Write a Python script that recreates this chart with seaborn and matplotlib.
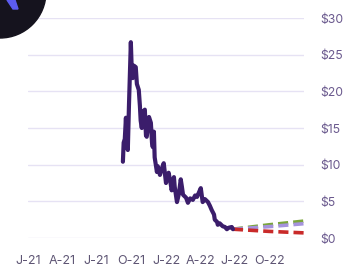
import pandas as pd
import matplotlib.pyplot as plt
from matplotlib.patches import Circle, Polygon
import seaborn as sns

# price history
dates = ['2021-09-09', '2021-09-11', '2021-09-14', '2021-09-17', '2021-09-19', '2021-09-22',
         '2021-09-25', '2021-09-30', '2021-10-03', '2021-10-05', '2021-10-08', '2021-10-13',
         '2021-10-16', '2021-10-21', '2021-10-24', '2021-10-26', '2021-10-29', '2021-11-01',
         '2021-11-06', '2021-11-09', '2021-11-11', '2021-11-17', '2021-11-22', '2021-11-25',
         '2021-11-27', '2021-11-30', '2021-12-02', '2021-12-08', '2021-12-10', '2021-12-16',
         '2021-12-21', '2021-12-26', '2022-01-01', '2022-01-03', '2022-01-08', '2022-01-14',
         '2022-01-16', '2022-01-22', '2022-01-24', '2022-01-30', '2022-02-04', '2022-02-09',
         '2022-02-12', '2022-02-15', '2022-02-23', '2022-02-28', '2022-03-06', '2022-03-13',
         '2022-03-19', '2022-03-24', '2022-03-29', '2022-04-03', '2022-04-08', '2022-04-14',
         '2022-04-22', '2022-04-27', '2022-05-02', '2022-05-08', '2022-05-10', '2022-05-16',
         '2022-05-18', '2022-05-23', '2022-05-31', '2022-06-06', '2022-06-11', '2022-06-16',
         '2022-06-24', '2022-06-27']
prices = [10.4, 13.0, 13.5, 16.4, 13.0, 12.0,
          18.0, 26.7, 22.0, 21.8, 23.5, 23.3,
          21.0, 20.2, 18.0, 16.0, 15.0, 17.2,
          17.5, 14.0, 13.8, 16.5, 15.7, 13.0,
          12.4, 14.5, 11.0, 9.0, 9.8, 8.6,
          9.5, 10.2, 7.5, 8.2, 8.9, 7.2,
          6.5, 8.3, 7.0, 4.9, 6.0, 8.0,
          7.0, 5.9, 5.5, 4.8, 5.4, 5.2,
          5.8, 5.6, 6.2, 6.8, 4.9, 5.3,
          4.9, 4.4, 3.8, 3.2, 2.5, 2.2,
          1.8, 2.0, 1.6, 1.5, 1.2, 1.4,
          1.5, 1.2]

# forecast scenarios
fc_dates = ['2022-06-27', '2022-10-01', '2022-12-31']
fc_high = [1.2, 1.8, 2.3]
fc_mid = [1.2, 1.55, 1.95]
fc_low = [1.2, 0.9, 0.7]

y_ticks = [0, 5, 10, 15, 20, 25, 30]
x_ticks = ['2021-01-01', '2021-04-01', '2021-07-01', '2021-10-01',
           '2022-01-01', '2022-04-01', '2022-07-01', '2022-10-01']
x_labels = ['J-21', 'A-21', 'J-21', 'O-21', 'J-22', 'A-22', 'J-22', 'O-22']

sns.set_style('white')
plt.rcParams['font.family'] = ['Inter', 'DejaVu Sans']

df = pd.DataFrame({'date': pd.to_datetime(dates), 'price': prices})
fc = pd.DataFrame({'date': pd.to_datetime(fc_dates), 'high': fc_high,
                   'mid': fc_mid, 'low': fc_low})

fig = plt.figure(figsize=(3.48, 2.68), dpi=100)
ax = fig.add_axes([28 / 348, 30 / 268, 276 / 348, 220 / 268])

dash = (0, (2.8, 1.4))
sns.lineplot(data=fc, x='date', y='high', ax=ax, color='#7aa53a', lw=2.6, ls=dash, clip_on=False)
sns.lineplot(data=fc, x='date', y='mid', ax=ax, color='#a593dc', lw=2.6, ls=dash, clip_on=False)
sns.lineplot(data=fc, x='date', y='low', ax=ax, color='#c92a2a', lw=2.6, ls=dash, clip_on=False)
sns.lineplot(data=df, x='date', y='price', ax=ax, color='#3b1d6b', lw=3)

ax.set_xlim(pd.Timestamp('2021-01-01'), pd.Timestamp('2023-01-01'))
ax.set_ylim(0, 30)
ax.set_yticks(y_ticks)
ax.set_yticklabels(['$' + str(v) for v in y_ticks])
ax.yaxis.tick_right()
ax.set_xticks(pd.to_datetime(x_ticks))
ax.set_xticklabels(x_labels)
ax.tick_params(axis='y', length=0, pad=12, labelsize=8.8, labelcolor='#6b5a8e')
ax.tick_params(axis='x', length=0, pad=12, labelsize=9, labelcolor='#5e5574')
ax.grid(axis='y', color='#e6e2f4', lw=1)
ax.grid(axis='x', visible=False)
ax.set_xlabel('')
ax.set_ylabel('')
for s in ax.spines.values():
    s.set_visible(False)

# logo in top-left corner
lax = fig.add_axes([0, 0, 1, 1], zorder=5)
lax.set_xlim(0, 348)
lax.set_ylim(268, 0)
lax.axis('off')
lax.add_patch(Circle((0, -8), 46, color='#15131e'))
lax.add_patch(Polygon([(7, 0), (15, 0), (18, 9), (13, 9)], color='#5c5cf2'))

plt.savefig('out.png', dpi=100)
